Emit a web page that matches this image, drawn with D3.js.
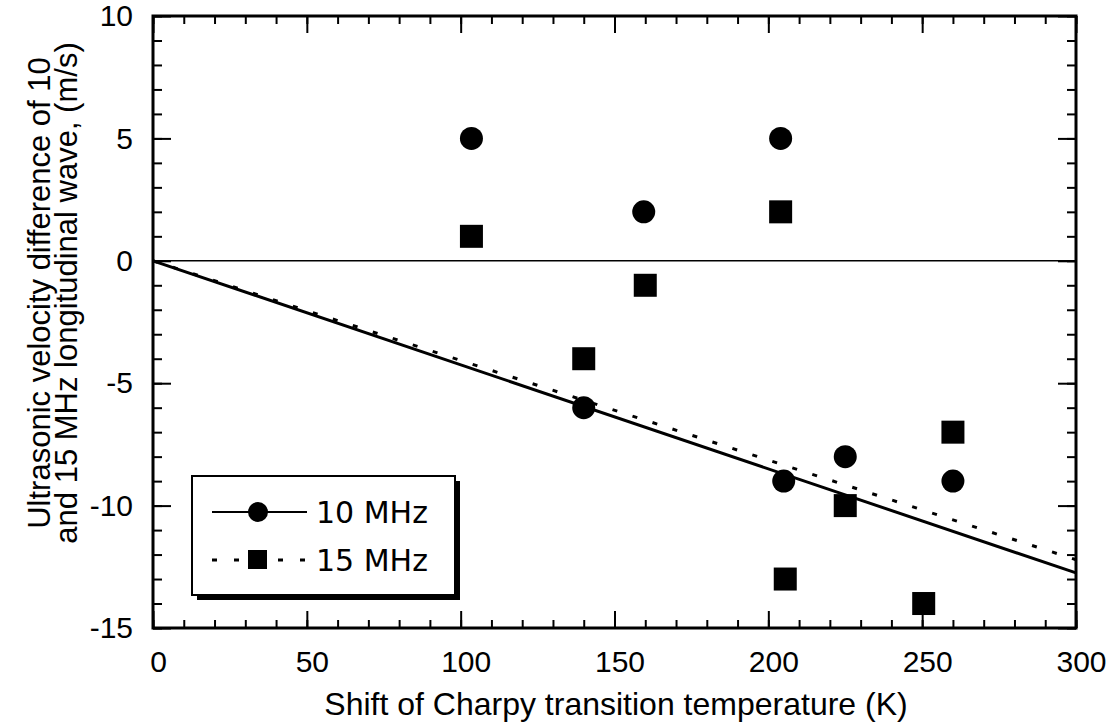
<!DOCTYPE html>
<html>
<head>
<meta charset="utf-8">
<script src="https://cdn.jsdelivr.net/npm/d3@7"></script>
<style>
  body { margin: 0; background: #fff; }
  svg { display: block; }
  .lbl { font-family: "Liberation Sans", Arial, sans-serif; font-size: 30px; fill: #000; }
</style>
</head>
<body>
<svg id="viz" width="1118" height="722"></svg>
<script>
// data
var mhz10_x = [103.5, 140, 159.5, 204, 205, 225, 260];
var mhz10_y = [5, -6, 2, 5, -9, -8, -9];
var mhz15_x = [103.5, 140, 160, 204, 205.5, 225, 250.5, 260];
var mhz15_y = [1, -4, -1, 2, -13, -10, -14, -7];
var fitSlope10 = -0.0425;   // solid line through origin
var fitSlope15 = -0.0407;   // dotted line through origin
var xMajor = [0, 50, 100, 150, 200, 250, 300];
var yMajor = [-15, -10, -5, 0, 5, 10];

var margin = {top: 16, right: 42, bottom: 94, left: 153};
var width = 1118, height = 722;
var svg = d3.select("#viz");

var x = d3.scaleLinear().domain([0, 300]).range([margin.left, width - margin.right]);
var y = d3.scaleLinear().domain([-15, 10]).range([height - margin.bottom, margin.top]);

var fmt = function(d) { return String(d); };

function styleAxis(g) {
  g.select(".domain").remove();
  g.selectAll(".tick line").attr("stroke", "#000").attr("stroke-width", 2);
  g.selectAll("text").attr("class", "lbl").attr("fill", "#000");
}

// minor ticks
svg.append("g").attr("transform", "translate(0," + y(-15) + ")")
  .call(d3.axisBottom(x).tickValues(d3.range(0, 301, 10)).tickSize(-8).tickFormat(""))
  .call(styleAxis);
svg.append("g").attr("transform", "translate(0," + y(10) + ")")
  .call(d3.axisTop(x).tickValues(d3.range(0, 301, 10)).tickSize(-8).tickFormat(""))
  .call(styleAxis);
svg.append("g").attr("transform", "translate(" + x(0) + ",0)")
  .call(d3.axisLeft(y).tickValues(d3.range(-15, 11, 1)).tickSize(-9).tickFormat(""))
  .call(styleAxis);
svg.append("g").attr("transform", "translate(" + x(300) + ",0)")
  .call(d3.axisRight(y).tickValues(d3.range(-15, 11, 1)).tickSize(-9).tickFormat(""))
  .call(styleAxis);

// major ticks with labels
svg.append("g").attr("transform", "translate(0," + y(-15) + ")")
  .call(d3.axisBottom(x).tickValues(xMajor).tickSize(-17).tickPadding(23).tickFormat(fmt))
  .call(styleAxis)
  .selectAll("text").attr("dx", 5);
svg.append("g").attr("transform", "translate(0," + y(10) + ")")
  .call(d3.axisTop(x).tickValues(xMajor).tickSize(-17).tickFormat(""))
  .call(styleAxis);
svg.append("g").attr("transform", "translate(" + x(0) + ",0)")
  .call(d3.axisLeft(y).tickValues(yMajor).tickSize(-18).tickPadding(20).tickFormat(fmt))
  .call(styleAxis);
svg.append("g").attr("transform", "translate(" + x(300) + ",0)")
  .call(d3.axisRight(y).tickValues(yMajor).tickSize(-18).tickFormat(""))
  .call(styleAxis);

// frame
svg.append("rect")
  .attr("x", x(0)).attr("y", y(10))
  .attr("width", x(300) - x(0)).attr("height", y(-15) - y(10))
  .attr("fill", "none").attr("stroke", "#000").attr("stroke-width", 3);

// zero line
svg.append("line")
  .attr("x1", x(0)).attr("x2", x(300)).attr("y1", y(0)).attr("y2", y(0))
  .attr("stroke", "#000").attr("stroke-width", 1.5);

// fit lines
var line = d3.line().x(function(d) { return x(d[0]); }).y(function(d) { return y(d[1]); });
svg.append("path")
  .attr("d", line([[0, 0], [300, 300 * fitSlope10]]))
  .attr("fill", "none").attr("stroke", "#000").attr("stroke-width", 3);
svg.append("path")
  .attr("d", line([[0, 0], [300, 300 * fitSlope15]]))
  .attr("fill", "none").attr("stroke", "#000").attr("stroke-width", 3)
  .attr("stroke-dasharray", "5,16");

// points
svg.append("g").selectAll("circle")
  .data(d3.zip(mhz10_x, mhz10_y))
  .enter().append("circle")
  .attr("cx", function(d) { return x(d[0]); })
  .attr("cy", function(d) { return y(d[1]); })
  .attr("r", 11.5).attr("fill", "#000");

var sq = 23;
svg.append("g").selectAll("rect")
  .data(d3.zip(mhz15_x, mhz15_y))
  .enter().append("rect")
  .attr("x", function(d) { return x(d[0]) - sq / 2; })
  .attr("y", function(d) { return y(d[1]) - sq / 2; })
  .attr("width", sq).attr("height", sq).attr("fill", "#000");

// legend
var lg = svg.append("g").attr("transform", "translate(192,476)");
lg.append("rect").attr("x", 5).attr("y", 5).attr("width", 263).attr("height", 119).attr("fill", "#000");
lg.append("rect").attr("x", 0).attr("y", 0).attr("width", 263).attr("height", 119)
  .attr("fill", "#fff").attr("stroke", "#000").attr("stroke-width", 2);
lg.append("line").attr("x1", 20).attr("x2", 115).attr("y1", 36).attr("y2", 36)
  .attr("stroke", "#000").attr("stroke-width", 2);
lg.append("circle").attr("cx", 66).attr("cy", 36).attr("r", 10).attr("fill", "#000");
lg.append("line").attr("x1", 20).attr("x2", 115).attr("y1", 84).attr("y2", 84)
  .attr("stroke", "#000").attr("stroke-width", 3).attr("stroke-dasharray", "5,17");
lg.append("rect").attr("x", 56).attr("y", 74).attr("width", 19).attr("height", 19).attr("fill", "#000");
lg.append("text").attr("x", 124).attr("y", 47)
  .style("font-family", "'DejaVu Sans', Verdana, sans-serif").style("font-size", "30px").text("10 MHz");
lg.append("text").attr("x", 124).attr("y", 95)
  .style("font-family", "'DejaVu Sans', Verdana, sans-serif").style("font-size", "30px").text("15 MHz");

// axis titles
svg.append("text").attr("class", "lbl")
  .attr("x", 616).attr("y", 715)
  .attr("text-anchor", "middle")
  .style("font-size", "32px")
  .text("Shift of Charpy transition temperature (K)");

var yt = svg.append("text").attr("class", "lbl")
  .attr("transform", "translate(0,293) rotate(-90)")
  .attr("text-anchor", "middle")
  .style("font-size", "31px");
yt.append("tspan").attr("x", 0).attr("y", 50).text("Ultrasonic velocity difference of 10");
yt.append("tspan").attr("x", 0).attr("y", 77).text("and 15 MHz longitudinal wave, (m/s)");
</script>
</body>
</html>
